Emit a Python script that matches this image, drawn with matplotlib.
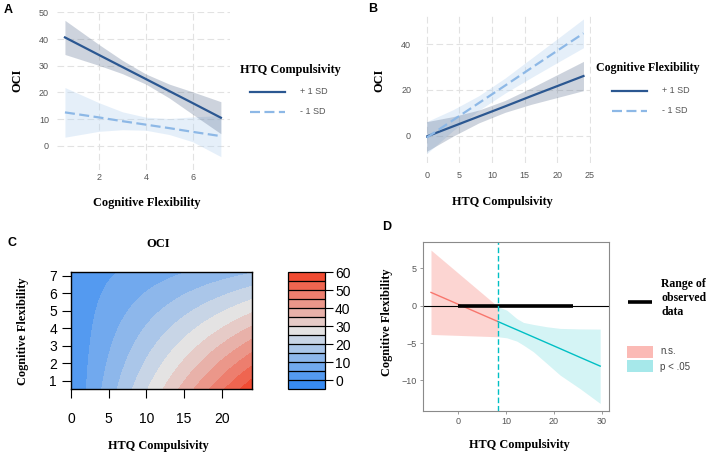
import numpy as np
import matplotlib
matplotlib.use("Agg")
import matplotlib.pyplot as plt
from matplotlib.lines import Line2D
from matplotlib.patches import Rectangle
from matplotlib.colors import LinearSegmentedColormap

W, H = 708, 459
SERIF = "Liberation Serif"
SANS = "Liberation Sans"

# --- panel A: OCI vs cognitive flexibility, by HTQ compulsivity (+/- 1 SD)
a_x = [0.54, 2, 3, 4, 5, 6, 7.21]
a_hi_fit = [40.6, 34.0, 29.5, 25.0, 20.5, 16.0, 10.5]
a_hi_up = [47.0, 37.9, 32.0, 26.9, 23.1, 20.2, 16.5]
a_hi_lo = [34.2, 30.1, 27.0, 23.1, 17.9, 11.8, 4.5]
a_lo_fit = [12.5, 10.6, 9.2, 7.9, 6.6, 5.2, 3.6]
a_lo_up = [21.8, 16.1, 12.7, 10.7, 10.2, 10.8, 11.3]
a_lo_lo = [3.2, 5.4, 6.0, 5.8, 4.2, 1.5, -4.1]

# --- panel B: OCI vs HTQ compulsivity, by cognitive flexibility (+/- 1 SD)
b_x = [0, 4, 8, 12, 16, 20, 24]
b_hi_fit = [-0.4, 4.0, 8.4, 12.8, 17.3, 21.7, 26.1]
b_hi_up = [6.1, 8.3, 11.2, 15.4, 20.9, 26.7, 32.5]
b_hi_lo = [-6.9, -0.3, 5.6, 10.2, 13.7, 16.7, 19.7]
b_lo_fit = [-0.9, 6.7, 14.3, 21.9, 29.6, 37.2, 44.8]
b_lo_up = [6.1, 11.3, 17.5, 25.2, 33.8, 42.4, 51.1]
b_lo_lo = [-7.9, 2.1, 11.1, 18.6, 25.4, 32.0, 38.5]

# --- panel C: fitted OCI surface, OCI = b0 + b1*HTQ + b2*CF + b3*HTQ*CF
b0, b1, b2, b3 = -0.13, 2.60, 0.25, -0.2855
htq_range = (0, 24)
cf_range = (0.54, 7.21)
oci_levels = list(range(-5, 61, 5))
oci_ticks = [0, 10, 20, 30, 40, 50, 60]

# --- panel D: Johnson-Neyman plot (slope of CF across HTQ compulsivity)
jn_point = 8.32
observed_range = [0, 24]
ns_x = [-5.73, 8.32]
ns_fit = [1.79, -2.12]
ns_up = [7.46, -0.13]
ns_lo = [-3.84, -4.15]
sig_x = [8.32, 10.14, 12.24, 13.64, 15.73, 18.53, 21.33, 25.5, 29.72]
sig_fit = [-2.12, -2.63, -3.21, -3.60, -4.18, -4.96, -5.74, -6.91, -8.08]
sig_up = [-0.13, -0.58, -1.71, -2.23, -2.50, -2.81, -3.03, -3.10, -3.12]
sig_lo = [-4.15, -4.29, -4.73, -5.27, -6.16, -7.72, -9.29, -11.1, -13.08]

DARK = "#2b5791"
LIGHT = "#8db8e6"
GRID = "#e2e2e2"


def px_axes(fig, left, top, right, bottom):
    return fig.add_axes([left / W, 1 - bottom / H, (right - left) / W, (bottom - top) / H])


def ftext(fig, x, y, s, **kw):
    return fig.text(x / W, 1 - y / H, s, **kw)


def fline(fig, x1, x2, y, **kw):
    fig.add_artist(Line2D([x1 / W, x2 / W], [1 - y / H, 1 - y / H],
                          transform=fig.transFigure, **kw))


def minimal(ax, xpad, ypad):
    for s in ax.spines.values():
        s.set_visible(False)
    ax.grid(True, color=GRID, lw=0.8, ls=(0, (6, 3)))
    ax.set_axisbelow(True)
    ax.tick_params(length=0, labelsize=6.5, labelcolor="#555555")
    ax.tick_params(axis="x", pad=xpad)
    ax.tick_params(axis="y", pad=ypad)
    for lab in ax.get_xticklabels() + ax.get_yticklabels():
        lab.set_fontfamily(SANS)


fig = plt.figure(figsize=(W / 100, H / 100), dpi=100)

# ---------------- A
ax = px_axes(fig, 57, 11.8, 230, 170)
ax.fill_between(a_x, a_lo_lo, a_lo_up, color="#b5d2f0", alpha=0.35, lw=0)
ax.fill_between(a_x, a_hi_lo, a_hi_up, color="#5b6f8f", alpha=0.3, lw=0)
ax.plot(a_x, a_hi_fit, color=DARK, lw=1.6)
ax.plot(a_x, a_lo_fit, color=LIGHT, lw=1.6, dashes=(4.5, 2))
ax.set_xlim(0.2, 7.6)
ax.set_ylim(-9.1, 50.2)
ax.set_xticks([2, 4, 6])
ax.set_yticks([0, 10, 20, 30, 40, 50])
minimal(ax, 2.5, 5.8)

ftext(fig, 8, 10, "A", fontsize=9, fontweight="bold", family=SANS, ha="center", va="center")
ftext(fig, 17, 80, "OCI", fontsize=8.8, fontweight="bold", family=SERIF,
      rotation=90, ha="center", va="center")
ftext(fig, 147, 203, "Cognitive Flexibility", fontsize=8.8, fontweight="bold",
      family=SERIF, ha="center", va="center")
ftext(fig, 240, 70, "HTQ Compulsivity", fontsize=8.8, fontweight="bold",
      family=SERIF, ha="left", va="center")
fline(fig, 250, 285, 91.7, color=DARK, lw=1.6)
fline(fig, 250, 285, 111.7, color=LIGHT, lw=1.6, dashes=(4.5, 2))
ftext(fig, 300, 91.7, "+ 1 SD", fontsize=6.5, family=SANS, color="#555555", va="center")
ftext(fig, 300, 111.7, "- 1 SD", fontsize=6.5, family=SANS, color="#555555", va="center")

# ---------------- B
ax = px_axes(fig, 425.7, 13, 591, 163)
ax.fill_between(b_x, b_lo_lo, b_lo_up, color="#b5d2f0", alpha=0.35, lw=0)
ax.fill_between(b_x, b_hi_lo, b_hi_up, color="#5b6f8f", alpha=0.3, lw=0)
ax.plot(b_x, b_hi_fit, color=DARK, lw=1.6)
ax.plot(b_x, b_lo_fit, color=LIGHT, lw=1.6, dashes=(4.5, 2))
ax.set_xlim(-0.15, 25.15)
ax.set_ylim(-12, 53.7)
ax.set_xticks([0, 5, 10, 15, 20, 25])
ax.set_yticks([0, 20, 40])
minimal(ax, 6, 10.5)

ftext(fig, 373, 9, "B", fontsize=9, fontweight="bold", family=SANS, ha="center", va="center")
ftext(fig, 379, 80, "OCI", fontsize=8.8, fontweight="bold", family=SERIF,
      rotation=90, ha="center", va="center")
ftext(fig, 502, 202, "HTQ Compulsivity", fontsize=8.8, fontweight="bold",
      family=SERIF, ha="center", va="center")
ftext(fig, 596, 68, "Cognitive Flexibility", fontsize=8.6, fontweight="bold",
      family=SERIF, ha="left", va="center")
fline(fig, 612, 647, 90.7, color=DARK, lw=1.6)
fline(fig, 612, 647, 110.7, color=LIGHT, lw=1.6, dashes=(4.5, 2))
ftext(fig, 662, 90.7, "+ 1 SD", fontsize=6.5, family=SANS, color="#555555", va="center")
ftext(fig, 662, 110.7, "- 1 SD", fontsize=6.5, family=SANS, color="#555555", va="center")

# ---------------- C
ax = px_axes(fig, 71, 272.3, 251.7, 389)
hh, cc = np.meshgrid(np.linspace(*htq_range, 300), np.linspace(*cf_range, 300))
zz = b0 + b1 * hh + b2 * cc + b3 * hh * cc
cmap = LinearSegmentedColormap.from_list("oci", ["#2a84f4", "#e4e4e4", "#f23f24"])
cs = ax.contourf(hh, cc, zz, levels=oci_levels, cmap=cmap)
ax.set_xlim(*htq_range)
ax.set_ylim(*cf_range)
ax.set_xticks([0, 5, 10, 15, 20])
ax.set_yticks([1, 2, 3, 4, 5, 6, 7])
for s in ax.spines.values():
    s.set_linewidth(1.0)
ax.tick_params(direction="out", length=6.5, width=0.8, labelsize=10)
ax.tick_params(axis="x", pad=10)
ax.tick_params(axis="y", pad=3.5)
for lab in ax.get_xticklabels() + ax.get_yticklabels():
    lab.set_fontfamily(SANS)

cax = px_axes(fig, 288, 272.3, 324.7, 389)
cb = fig.colorbar(cs, cax=cax, ticks=oci_ticks, drawedges=True)
cb.outline.set_linewidth(0.9)
cb.dividers.set_linewidth(0.9)
cb.dividers.set_color("black")
cax.tick_params(length=6, width=0.8, labelsize=10, pad=1.5)
for lab in cax.get_yticklabels():
    lab.set_fontfamily(SANS)

ftext(fig, 12, 243, "C", fontsize=9, fontweight="bold", family=SANS, ha="center", va="center")
ftext(fig, 158, 244, "OCI", fontsize=9, fontweight="bold", family=SERIF, ha="center", va="center")
ftext(fig, 158, 446, "HTQ Compulsivity", fontsize=8.8, fontweight="bold",
      family=SERIF, ha="center", va="center")
ftext(fig, 23, 331, "Cognitive Flexibility", fontsize=8.8, fontweight="bold",
      family=SERIF, rotation=90, ha="center", va="center")

# ---------------- D
RED = "#F8766D"
CYAN = "#00BFC4"
ax = px_axes(fig, 423.3, 242.3, 608.7, 410.7)
ax.fill_between(ns_x, ns_lo, ns_up, color=RED, alpha=0.3, lw=0)
ax.fill_between(sig_x, sig_lo, sig_up, color=CYAN, alpha=0.17, lw=0)
ax.plot(ns_x, ns_fit, color=RED, lw=1.0)
ax.plot(sig_x, sig_fit, color=CYAN, lw=1.0)
ax.axhline(0, color="black", lw=0.8)
ax.plot(observed_range, [0, 0], color="black", lw=2.6, solid_capstyle="butt")
ax.axvline(jn_point, color=CYAN, lw=1.0, ls=(0, (4, 2)))
ax.set_xlim(-7.34, 31.5)
ax.set_ylim(-14.05, 8.5)
ax.set_xticks([0, 10, 20, 30])
ax.set_yticks([5, 0, -5, -10])
for s in ax.spines.values():
    s.set_color("#8a8a8a")
    s.set_linewidth(0.8)
ax.tick_params(direction="out", length=2.5, width=0.6, color="#8a8a8a",
               labelsize=6.5, labelcolor="#555555", pad=2)
for lab in ax.get_xticklabels() + ax.get_yticklabels():
    lab.set_fontfamily(SANS)

ftext(fig, 387, 227, "D", fontsize=9, fontweight="bold", family=SANS, ha="center", va="center")
ftext(fig, 519, 445, "HTQ Compulsivity", fontsize=8.8, fontweight="bold",
      family=SERIF, ha="center", va="center")
ftext(fig, 387, 322, "Cognitive Flexibility", fontsize=8.8, fontweight="bold",
      family=SERIF, rotation=90, ha="center", va="center")
fline(fig, 628, 652, 302, color="black", lw=2.6, solid_capstyle="butt")
ftext(fig, 661, 298, "Range of\nobserved\ndata", fontsize=8.5, fontweight="bold",
      family=SERIF, ha="left", va="center", linespacing=1.25)
fig.add_artist(Rectangle((627 / W, 1 - 357.5 / H), 26 / W, 11.5 / H,
                         transform=fig.transFigure, color=RED, alpha=0.5, lw=0))
fig.add_artist(Rectangle((627 / W, 1 - 371.5 / H), 26 / W, 12 / H,
                         transform=fig.transFigure, color=CYAN, alpha=0.35, lw=0))
ftext(fig, 660, 351, "n.s.", fontsize=7, family=SANS, color="#444444", va="center")
ftext(fig, 660, 366.5, "p < .05", fontsize=7, family=SANS, color="#444444", va="center")

fig.savefig("out.png", dpi=100)
